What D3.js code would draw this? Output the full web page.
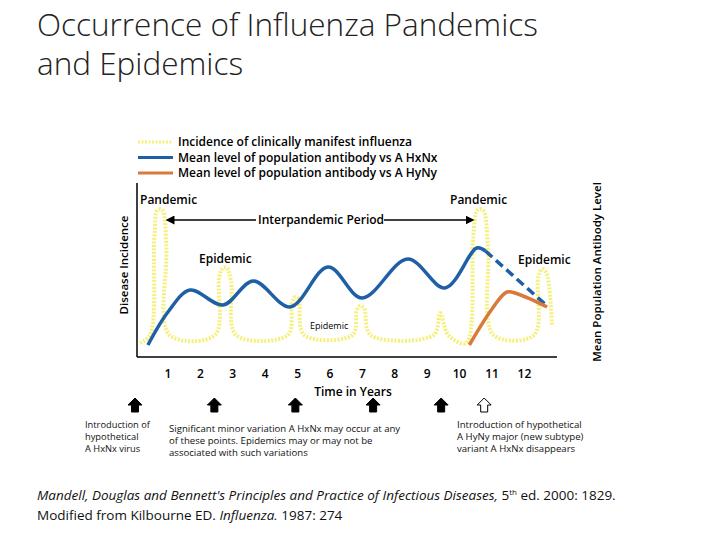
<!DOCTYPE html>
<html><head><meta charset="utf-8">
<script src="https://cdn.jsdelivr.net/npm/d3@7"></script>
<style>body{margin:0;background:#fff}text{font-family:"Open Sans",sans-serif}</style>
</head><body><svg id="c" width="720" height="540"></svg>
<script>
// time in years, incidence / antibody level (relative units)
var incidence = [[0.14,14],[0.45,22],[0.58,120],[0.68,147],[0.82,147],[0.95,110],[1.05,22],[2.45,22],[2.58,80],[2.7,89],[2.82,89],[2.95,75],[3.1,22],
  [4.7,22],[4.83,55],[4.93,60],[5.03,58],[5.2,22],[6.7,22],[6.83,47],[6.93,51],[7.05,49],[7.25,22],
  [9.2,22],[9.4,44],[9.65,22],[10.2,14],[10.42,120],[10.55,147],[10.72,147],[10.88,110],[11.05,22],[12.3,22],[12.43,80],[12.55,88],[12.68,84],[12.85,32]];
var antibodyX = [[0.38,12],[1.0,45],[1.68,67],[2.7,52],[3.63,76],[4.77,50],[5.94,90],[6.99,59],[8.4,98],[9.55,69],[10.53,109],[10.8,106]];
var antibodyXdash = [[10.8,106],[12.7,51]];
var antibodyY = [[10.3,12],[11.0,48],[11.46,65],[11.8,63],[12.7,50]];
var years = [1,2,3,4,5,6,7,8,9,10,11,12];
var arrowYears = [-0.05,2.4,4.9,7.3,9.4];
var openArrowYear = 10.45;

var svg = d3.select("#c");
var x = d3.scaleLinear().domain([0,13]).range([135.6,556.8]);
var y = d3.scaleLinear().domain([0,167]).range([357,190]);

svg.append("text").attr("x",37).attr("y",36).attr("font-size",31.5).attr("fill","#222").attr("font-weight",300).text("Occurrence of Influenza Pandemics");
svg.append("text").attr("x",37).attr("y",75).attr("font-size",31.5).attr("fill","#222").attr("font-weight",300).text("and Epidemics");

var ln = d3.line().x(function(d){return x(d[0]);}).y(function(d){return y(d[1]);}).curve(d3.curveCatmullRom);
svg.append("path").attr("d",ln(incidence)).attr("fill","none").attr("stroke","#f5f07a").attr("stroke-width",4).attr("stroke-dasharray","2,1.5");
svg.append("path").attr("d",ln(antibodyX)).attr("fill","none").attr("stroke","#1f5fa6").attr("stroke-width",3.5);
svg.append("path").attr("d",ln(antibodyXdash)).attr("fill","none").attr("stroke","#1f5fa6").attr("stroke-width",3.5).attr("stroke-dasharray","9,5");
svg.append("path").attr("d",ln(antibodyY)).attr("fill","none").attr("stroke","#d97a3a").attr("stroke-width",3.5);

// axes
svg.append("line").attr("x1",137).attr("x2",137).attr("y1",183).attr("y2",357).attr("stroke","#000").attr("stroke-width",1.5);
svg.append("line").attr("x1",137).attr("x2",557).attr("y1",357).attr("y2",357).attr("stroke","#000").attr("stroke-width",1.5);
svg.selectAll(".tk").data(years).enter().append("text").attr("x",function(d){return x(d);}).attr("y",378)
  .attr("text-anchor","middle").attr("font-size",12).attr("font-weight",600).text(function(d){return d;});
svg.append("text").attr("x",353).attr("y",396).attr("text-anchor","middle").attr("font-size",12).attr("font-weight",600).text("Time in Years");
svg.append("text").attr("transform","translate(128,265) rotate(-90)").attr("text-anchor","middle").attr("font-size",11.5).attr("font-weight",600).text("Disease Incidence");
svg.append("text").attr("transform","translate(601,272) rotate(-90)").attr("text-anchor","middle").attr("font-size",11.5).attr("font-weight",600).text("Mean Population Antibody Level");

// legend
var leg = [["#f5f07a","2,1.5","Incidence of clinically manifest influenza"],["#1f5fa6",null,"Mean level of population antibody vs A HxNx"],["#d97a3a",null,"Mean level of population antibody vs A HyNy"]];
leg.forEach(function(l,i){
  var yy = 142+i*15.5;
  svg.append("line").attr("x1",138).attr("x2",173).attr("y1",yy).attr("y2",yy).attr("stroke",l[0]).attr("stroke-width",3).attr("stroke-dasharray",l[1]);
  svg.append("text").attr("x",178).attr("y",yy+4).attr("font-size",12).attr("font-weight",600).text(l[2]);
});

// annotations
function lab(tx,xx,yy,fs){svg.append("text").attr("x",xx).attr("y",yy).attr("font-size",fs).attr("font-weight",600).text(tx);}
lab("Pandemic",140,204,12); lab("Pandemic",450,204,12);
lab("Interpandemic Period",258,224,12);
lab("Epidemic",199,263,12); lab("Epidemic",518,264,12);
svg.append("text").attr("x",310).attr("y",329).attr("font-size",9).text("Epidemic");
var ar = svg.append("defs").append("marker").attr("id","ah").attr("viewBox","0 0 10 10").attr("refX",5).attr("refY",5)
  .attr("markerWidth",6).attr("markerHeight",6).attr("orient","auto-start-reverse");
ar.append("path").attr("d","M0,0L10,5L0,10z");
svg.append("line").attr("x1",170).attr("x2",256).attr("y1",220).attr("y2",220).attr("stroke","#000").attr("stroke-width",1.5).attr("marker-start","url(#ah)");
svg.append("line").attr("x1",384).attr("x2",470).attr("y1",220).attr("y2",220).attr("stroke","#000").attr("stroke-width",1.5).attr("marker-end","url(#ah)");

// up arrows
function upArrow(cx,fill){
  svg.append("path").attr("d","M"+(cx-7)+",405 L"+cx+",398 L"+(cx+7)+",405 L"+(cx+3.5)+",405 L"+(cx+3.5)+",412 L"+(cx-3.5)+",412 L"+(cx-3.5)+",405 Z")
    .attr("fill",fill).attr("stroke","#000").attr("stroke-width",1);
}
arrowYears.forEach(function(t){upArrow(x(t)+1,"#000");});
upArrow(x(openArrowYear)+10,"#fff");

function block(lines,xx,yy,fs){lines.forEach(function(s,i){svg.append("text").attr("x",xx).attr("y",yy+i*12).attr("font-size",fs).attr("fill","#111").text(s);});}
block(["Introduction of","hypothetical","A HxNx virus"],85,428,9.3);
block(["Significant minor variation A HxNx may occur at any","of these points. Epidemics may or may not be","associated with such variations"],169,432,9.6);
block(["Introduction of hypothetical","A HyNy major (new subtype)","variant A HxNx disappears"],457,428,9.6);

var ref = svg.append("text").attr("x",37).attr("y",500).attr("font-size",13.5).attr("fill","#111");
ref.append("tspan").attr("font-style","italic").text("Mandell, Douglas and Bennett's Principles and Practice of Infectious Diseases,");
ref.append("tspan").text(" 5");
ref.append("tspan").attr("font-size",8).attr("dy",-5).text("th");
ref.append("tspan").attr("dy",5).text(" ed. 2000: 1829.");
var ref2 = svg.append("text").attr("x",37).attr("y",520).attr("font-size",13.5).attr("fill","#111");
ref2.append("tspan").text("Modified from Kilbourne ED. ");
ref2.append("tspan").attr("font-style","italic").text("Influenza.");
ref2.append("tspan").text(" 1987: 274");
</script></body></html>
